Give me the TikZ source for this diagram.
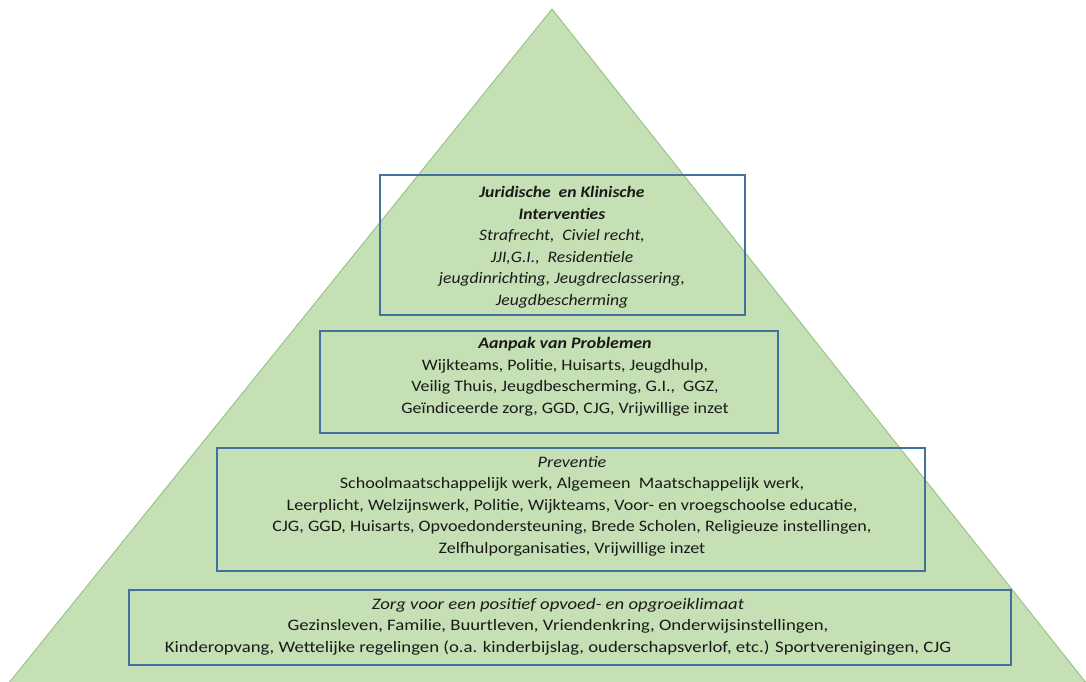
\documentclass[tikz,border=0pt]{standalone}
\usepackage{fontspec}
\setmainfont{Carlito}
\newfontfamily\fonta[FakeStretch=1.10]{Carlito}
\newfontfamily\fontb[FakeStretch=1.12]{Carlito}
\newfontfamily\fontc[FakeStretch=1.13]{Carlito}
\newfontfamily\fontd[FakeStretch=1.17]{Carlito}
\begin{document}
\begin{tikzpicture}[x=1pt,y=-1pt,
  tri/.style={fill=pyrfill,draw=pyrline,line width=0.8pt},
  layerbox/.style={draw=boxblue,line width=2.2pt,inner sep=0pt},
  layertext/.style={align=center,text=txt,inner sep=0pt}]
\definecolor{pyrfill}{HTML}{C5E0B4}
\definecolor{pyrline}{HTML}{8DBF7A}
\definecolor{boxblue}{HTML}{41719C}
\definecolor{txt}{HTML}{1A1A1A}
\useasboundingbox (0,0) rectangle (1086,681);
\clip (0,0) rectangle (1086,681);
\draw[tri] (8,684) -- (552,9) -- (1087,684) -- cycle;
% boxes
\node[layerbox,minimum width=365pt,minimum height=140pt] (b1) at (562.5,245) {};
\node[layerbox,minimum width=458pt,minimum height=102pt] (b2) at (549,382) {};
\node[layerbox,minimum width=708pt,minimum height=123pt] (b3) at (571,509.5) {};
\node[layerbox,minimum width=882pt,minimum height=75pt] (b4) at (570,627.5) {};
% texts
\node[layertext,font=\fonta\fontsize{16}{21.5}\selectfont] (t1) at (562,247) {\textbf{\textit{Juridische\ \ en Klinische}}\\\textbf{\textit{Interventies}}\\\textit{Strafrecht,\ \ Civiel recht,}\\\textit{JJI,G.I.,\ \ Residentiele}\\\textit{jeugdinrichting, Jeugdreclassering,}\\\textit{Jeugdbescherming}};
\node[layertext,font=\fontb\fontsize{16}{21.5}\selectfont] (t2) at (565,377) {\textbf{\textit{Aanpak van\ Problemen}}\\Wijkteams, Politie, Huisarts, Jeugdhulp,\\Veilig Thuis, Jeugdbescherming, G.I.,\ \ GGZ,\\Geïndiceerde zorg, GGD, CJG, Vrijwillige inzet};
\node[layertext,font=\fontc\fontsize{16}{21.5}\selectfont] (t3) at (572,506) {\textit{Preventie}\\Schoolmaatschappelijk werk, Algemeen\ \ Maatschappelijk werk,\\Leerplicht, Welzijnswerk, Politie, Wijkteams, Voor- en vroegschoolse educatie,\\CJG, GGD,\ Huisarts, Opvoedondersteuning, Brede Scholen, Religieuze instellingen,\\Zelfhulporganisaties, Vrijwillige inzet};
\node[layertext,font=\fontd\fontsize{16}{21.5}\selectfont] (t4) at (558,626.5) {\textit{Zorg voor een positief opvoed- en opgroeiklimaat}\\Gezinsleven, Familie, Buurtleven, Vriendenkring, Onderwijsinstellingen,\\Kinderopvang, Wettelijke regelingen (o.a. kinderbijslag, ouderschapsverlof, etc.) Sportverenigingen,\ CJG};
\end{tikzpicture}
\end{document}
